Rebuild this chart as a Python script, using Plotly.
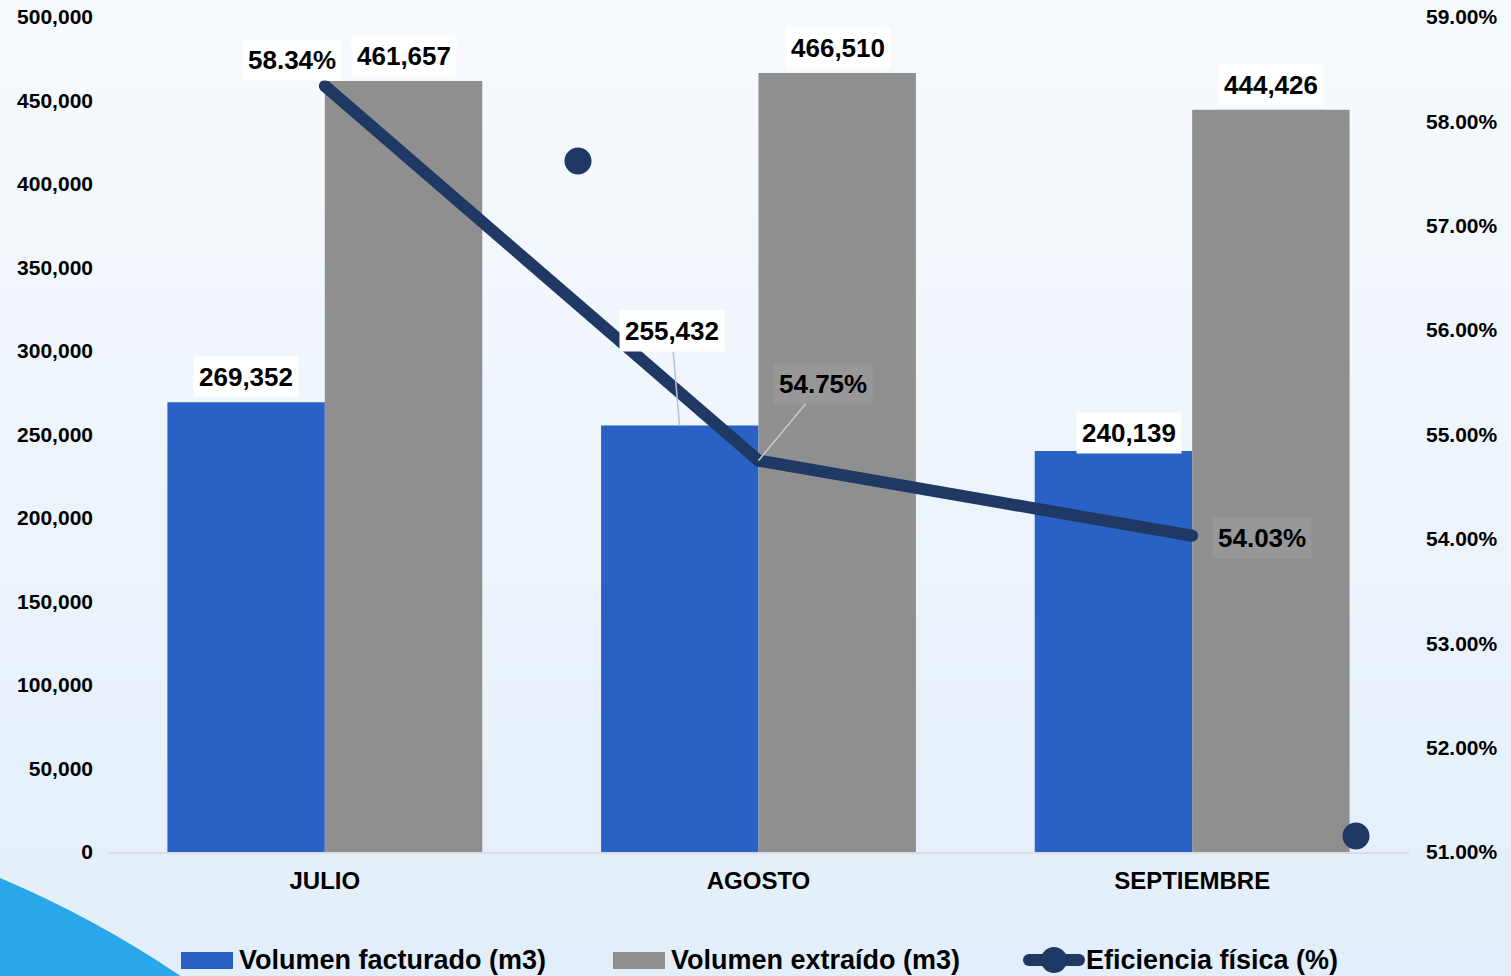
import plotly.graph_objects as go

# ---------------- data ----------------
months = ["JULIO", "AGOSTO", "SEPTIEMBRE"]
facturado = [269352, 255432, 240139]
extraido = [461657, 466510, 444426]
eficiencia = [0.5834, 0.5475, 0.5403]

name_fact = "Volumen facturado (m3)"
name_extr = "Volumen extraído (m3)"
name_efic = "Eficiencia física (%)"

# ---------------- figure geometry ----------------
W, H = 1511, 976
L, R, T, B = 108, 102, 17, 124
PW, PH = W - L - R, H - T - B

def px(xp):
    return (xp - L) / PW

def py(yp):
    return (H - B - yp) / PH

FONT = "Liberation Sans, Arial, sans-serif"
BLUE = "#2a61c4"
GRAY = "#8f8f8f"
NAVY = "#1f3864"

fig = go.Figure()
fig.add_trace(go.Bar(x=months, y=facturado, name=name_fact, showlegend=False,
                     marker=dict(color=BLUE, line=dict(width=0))))
fig.add_trace(go.Bar(x=months, y=extraido, name=name_extr, showlegend=False,
                     marker=dict(color=GRAY, line=dict(width=0))))
fig.add_trace(go.Scatter(x=months, y=eficiencia, yaxis="y2", mode="lines+markers",
                         line=dict(color=NAVY, width=12),
                         marker=dict(color=NAVY, size=12, line=dict(width=0)),
                         showlegend=False, name=name_efic))

# ---------------- background gradient & decoration ----------------
shapes = []
N = 60
top = (247, 250, 253)
bot = (226, 238, 249)
for i in range(N):
    t = i / (N - 1)
    c = tuple(round(top[k] + (bot[k] - top[k]) * t) for k in range(3))
    y0 = i * H / N
    y1 = (i + 1) * H / N + 1
    shapes.append(dict(type="rect", xref="paper", yref="paper",
                       x0=px(0), x1=px(W), y0=py(y1), y1=py(y0),
                       fillcolor="rgb(%d,%d,%d)" % c, line=dict(width=0),
                       layer="below"))
# blue corner wave bottom-left
shapes.append(dict(type="path", xref="paper", yref="paper",
                   path="M %f,%f Q %f,%f %f,%f L %f,%f Z" % (
                       px(0), py(878), px(95), py(918), px(182), py(977),
                       px(0), py(977)),
                   fillcolor="#2aa6ea", line=dict(width=0), layer="below"))
# stray decorative dots
for cx, cy in [(578, 161), (1356, 836)]:
    r = 13.5
    shapes.append(dict(type="circle", xref="paper", yref="paper",
                       x0=px(cx - r), x1=px(cx + r), y0=py(cy + r), y1=py(cy - r),
                       fillcolor=NAVY, line=dict(width=0), layer="above"))

# ---------------- custom legend ----------------
LEG_Y = 960
shapes.append(dict(type="rect", xref="paper", yref="paper",
                   x0=px(181), x1=px(233), y0=py(969), y1=py(952),
                   fillcolor=BLUE, line=dict(width=0)))
shapes.append(dict(type="rect", xref="paper", yref="paper",
                   x0=px(613), x1=px(665), y0=py(969), y1=py(952),
                   fillcolor=GRAY, line=dict(width=0)))
shapes.append(dict(type="line", xref="paper", yref="paper",
                   x0=px(1029), x1=px(1079), y0=py(LEG_Y), y1=py(LEG_Y),
                   line=dict(color=NAVY, width=12)))
for cx, rr in [(1029, 6), (1079, 6), (1054, 13)]:
    shapes.append(dict(type="circle", xref="paper", yref="paper",
                       x0=px(cx - rr), x1=px(cx + rr), y0=py(LEG_Y + rr),
                       y1=py(LEG_Y - rr), fillcolor=NAVY, line=dict(width=0)))

leg_font = dict(family=FONT, size=27, color="black", weight="bold")
ann = []
for xt, txt in [(237, name_fact), (669, name_extr), (1084, name_efic)]:
    ann.append(dict(x=px(xt), y=py(LEG_Y), xref="paper", yref="paper",
                    text=txt, showarrow=False, xanchor="left", yanchor="middle",
                    font=leg_font))

# ---------------- data labels ----------------
lab_font = dict(family=FONT, size=26, color="black", weight="bold")
bar_dx = 79
for i, m in enumerate(months):
    a = dict(x=m, y=facturado[i], xref="x", yref="y",
             text=f"{facturado[i]:,}", font=lab_font, bgcolor="white",
             borderpad=5, xshift=-bar_dx)
    if i == 1:
        a.update(showarrow=True, ax=-8, ay=-94, arrowhead=0, arrowwidth=1.5,
                 arrowcolor="#b8c3d2", standoff=0)
    elif i == 2:
        a.update(showarrow=False, xshift=-bar_dx + 16, yshift=18)
    else:
        a.update(showarrow=False, yshift=25)
    ann.append(a)
    ann.append(dict(x=m, y=extraido[i], xref="x", yref="y",
                    text=f"{extraido[i]:,}", font=lab_font, bgcolor="white",
                    borderpad=5, xshift=bar_dx, yshift=25, showarrow=False))
eff_cfg = [
    dict(showarrow=False, xshift=-33, yshift=26, bgcolor="white"),
    dict(showarrow=True, ax=64, ay=-77, arrowhead=0, arrowwidth=1.5,
         arrowcolor="#c4ccd8", standoff=0, bgcolor="rgba(255,255,255,0.08)"),
    dict(showarrow=False, xshift=70, yshift=-2, bgcolor="rgba(255,255,255,0.08)"),
]
for i, m in enumerate(months):
    a = dict(x=m, y=eficiencia[i], xref="x", yref="y2",
             text=f"{eficiencia[i]*100:.2f}%", font=lab_font, borderpad=5)
    a.update(eff_cfg[i])
    ann.append(a)

tick_font = dict(family=FONT, size=21, color="black", weight="bold")

fig.update_layout(
    width=W, height=H,
    margin=dict(l=L, r=R, t=T, b=B, autoexpand=False),
    paper_bgcolor="#eef5fc", plot_bgcolor="rgba(0,0,0,0)",
    barmode="group", bargap=0.274, bargroupgap=0,
    font=dict(family=FONT, color="black"),
    showlegend=False,
    xaxis=dict(type="category", tickfont=dict(family=FONT, size=24, color="black",
                                               weight="bold"),
               showline=True, linecolor="#d9dde3", linewidth=2,
               showgrid=False, ticks="", ticklabelstandoff=6),
    yaxis=dict(range=[0, 500000], dtick=50000, tickformat=",", tickfont=tick_font,
               showgrid=False, zeroline=False, ticks="", ticklabelstandoff=14),
    yaxis2=dict(range=[0.51, 0.59], dtick=0.01, tickformat=".2%", tickfont=tick_font,
                overlaying="y", side="right", showgrid=False, zeroline=False,
                ticks="", ticklabelstandoff=16),
    shapes=shapes,
    annotations=ann,
)

fig.write_html("out.html", config={"displayModeBar": False},
               post_script="document.body.style.margin='0';document.body.style.overflow='hidden';")
